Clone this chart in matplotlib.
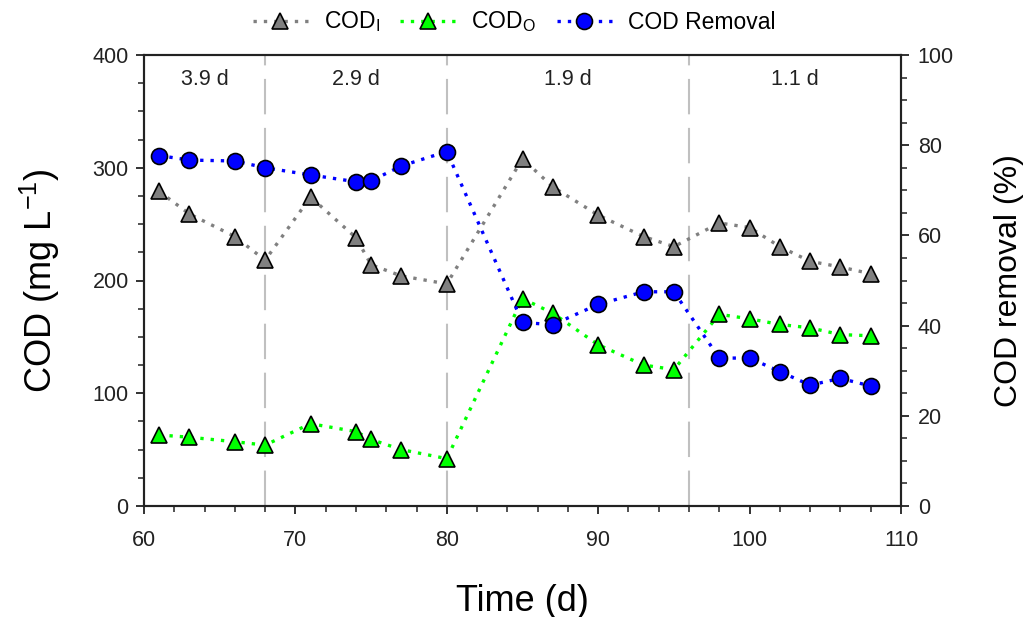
import matplotlib
matplotlib.use("Agg")
import matplotlib.pyplot as plt
from matplotlib.ticker import MultipleLocator

plt.rcParams['font.family'] = ['Liberation Sans', 'DejaVu Sans']
plt.rcParams['mathtext.default'] = 'regular'

# ---- data ----
time_d = [61, 63, 66, 68, 71, 74, 75, 77, 80, 85, 87, 90, 93, 95, 98, 100, 102, 104, 106, 108]
cod_in = [279, 259, 239, 218, 274, 238, 214, 204, 197, 308, 283, 258, 239, 230, 251, 247, 230, 217, 212, 206]
cod_out = [63, 61, 57, 54, 73, 66, 59, 50, 42, 184, 171, 143, 125, 121, 170, 166, 161, 158, 152, 151]
removal = [77.7, 76.7, 76.5, 75.0, 73.4, 71.9, 72.1, 75.4, 78.6, 40.7, 40.2, 44.7, 47.5, 47.5,
           32.8, 32.8, 29.8, 26.8, 28.3, 26.6]
phase_bounds = [68, 80, 96]
phase_labels = ["3.9 d", "2.9 d", "1.9 d", "1.1 d"]
phase_centers = [64, 74, 88, 103]

fig = plt.figure(figsize=(10.30, 6.17), dpi=100)
ax = fig.add_axes([144/1030, 1-506/617, (901-144)/1030, (506-55)/617])
ax2 = ax.twinx()

# vertical phase lines
for b in phase_bounds:
    ax.axvline(b, color='#c0c0c0', lw=1.5, dashes=(17, 6.5), zorder=0.5)

for c, t in zip(phase_centers, phase_labels):
    ax.text(c, 378, t, ha='center', va='center', fontsize=15.5, color='#222222')

dot = (0, (1, 2.1))
l1, = ax.plot(time_d, cod_in, color='#808080', lw=2.4, linestyle=dot,
              marker='^', ms=11, markerfacecolor='#808080', markeredgecolor='black',
              markeredgewidth=1.2, label=r'COD$_{I}$', zorder=3)
l2, = ax.plot(time_d, cod_out, color='#00ff00', lw=2.4, linestyle=dot,
              marker='^', ms=11, markerfacecolor='#00ff00', markeredgecolor='black',
              markeredgewidth=1.2, label=r'COD$_{O}$', zorder=3)
l3, = ax2.plot(time_d, removal, color='#0000ff', lw=2.4, linestyle=dot,
               marker='o', ms=11.5, markerfacecolor='#0000ff', markeredgecolor='black',
               markeredgewidth=1.2, label='COD Removal', zorder=3)

ax.set_xlim(60, 110)
ax.set_ylim(0, 400)
ax2.set_ylim(0, 100)

ax.xaxis.set_major_locator(MultipleLocator(10))
ax.xaxis.set_minor_locator(MultipleLocator(2))
ax.yaxis.set_major_locator(MultipleLocator(100))
ax.yaxis.set_minor_locator(MultipleLocator(25))
ax2.yaxis.set_major_locator(MultipleLocator(20))
ax2.yaxis.set_minor_locator(MultipleLocator(5))

for a in (ax, ax2):
    for s in a.spines.values():
        s.set_linewidth(1.5)
        s.set_color('#222222')
    a.tick_params(which='major', length=6, width=1.3, color='#222222', labelsize=15.5,
                  labelcolor='#222222')
    a.tick_params(which='minor', length=4, width=1.1, color='#222222')

ax.tick_params(axis='x', which='major', pad=11)
ax.tick_params(axis='y', which='major', pad=5)
ax2.tick_params(axis='y', which='major', pad=6)
ax.tick_params(top=False, right=False, which='both')
ax2.tick_params(top=False, which='both')

ax.set_xlabel('Time (d)', fontsize=26, labelpad=24)
ax.set_ylabel(r'COD (mg L$^{\mathregular{-1}}$)', fontsize=26, labelpad=22)
ax2.set_ylabel('COD removal (%)', fontsize=23, labelpad=29)

fig.legend(handles=[l1, l2, l3], loc='center', bbox_to_anchor=(514/1030, 1-22/617),
           ncol=3, frameon=False, fontsize=16.5, handlelength=2.4, handletextpad=0.7,
           columnspacing=0.9, numpoints=1)

fig.savefig('out.png', dpi=100)
